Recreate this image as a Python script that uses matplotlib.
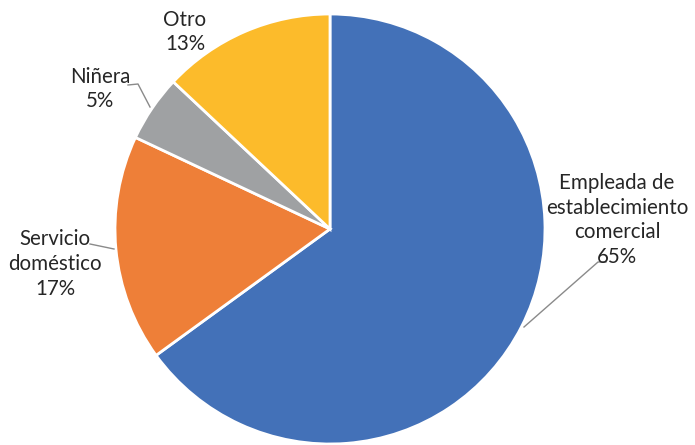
import matplotlib.pyplot as plt

# Ocupación de las mujeres encuestadas
categorias = ['Empleada de\nestablecimiento\ncomercial', 'Servicio\ndoméstico', 'Niñera', 'Otro']
porcentajes = [65, 17, 5, 13]
colores = ['#4371B8', '#EE7F38', '#9FA1A3', '#FCBB2B']

W, H = 695, 445
fig = plt.figure(figsize=(W / 100, H / 100), dpi=100)
ax = fig.add_axes([0, 0, 1, 1])

def py(y):
    # pixel row -> data y
    return H - y

ax.pie(porcentajes, colors=colores, startangle=90, counterclock=False,
       center=(330, py(229)), radius=215, frame=True,
       wedgeprops=dict(edgecolor='white', linewidth=2))
ax.set_xlim(0, W)
ax.set_ylim(0, H)
ax.set_aspect('equal')
ax.axis('off')

# etiquetas: posición del texto y línea guía
pos_texto = [(617, 220), (55, 264), (100, 89), (185, 32)]
guias = [
    [(524, 327), (598, 262), (606, 262)],
    [(90, 244), (114, 249)],
    [(128, 85), (138, 84), (150, 107)],
    None,
]
for cat, val, (x, y), g in zip(categorias, porcentajes, pos_texto, guias):
    ax.text(x, py(y), f'{cat}\n{val}%', ha='center', va='center',
            fontsize=14.8, family='Lato', color='#262626', linespacing=1.3)
    if g:
        ax.plot([p[0] for p in g], [py(p[1]) for p in g], color='#8a8a8a', lw=1)

fig.savefig('out.png', dpi=100)
